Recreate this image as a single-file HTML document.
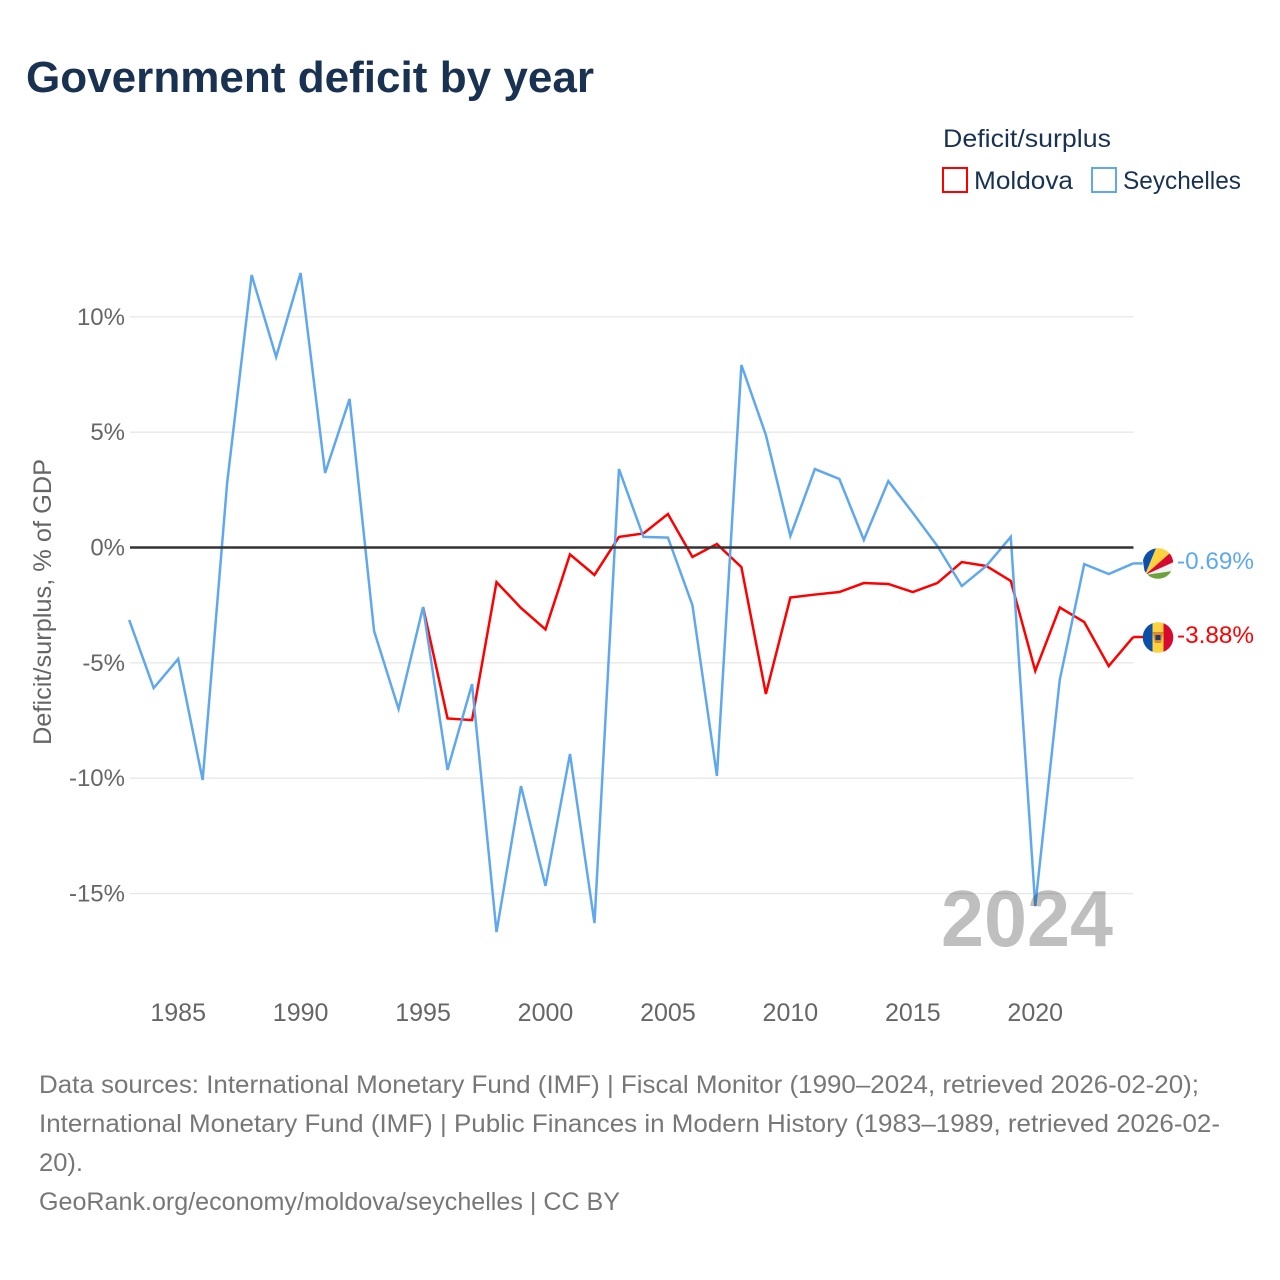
<!DOCTYPE html>
<html lang="en">
<head>
<meta charset="utf-8">
<title>Government deficit by year</title>
<style>
html,body{margin:0;padding:0;background:#fff}
svg{display:block}
text{font-family:"Liberation Sans",sans-serif}
</style>
</head>
<body>
<svg id="chart" xmlns="http://www.w3.org/2000/svg" width="1280" height="1280" viewBox="0 0 1280 1280">
<defs>
<clipPath id="flag-clip-sc"><circle cx="1158" cy="563.5" r="15.3"/></clipPath>
<clipPath id="flag-clip-md"><circle cx="1158" cy="637.5" r="15.3"/></clipPath>
</defs>
<rect x="0" y="0" width="1280" height="1280" fill="#fff"/>
<text x="26" y="92" font-size="44" font-weight="700" fill="#1a3252" textLength="568" lengthAdjust="spacingAndGlyphs">Government deficit by year</text>
<text x="943" y="147" font-size="25" fill="#1a3252" textLength="168" lengthAdjust="spacingAndGlyphs">Deficit/surplus</text>
<rect x="943" y="168" width="24" height="24" fill="none" stroke="#ff0000" stroke-width="2"/>
<text x="974" y="189" font-size="25" fill="#1a3252" textLength="99" lengthAdjust="spacingAndGlyphs">Moldova</text>
<rect x="1092" y="168" width="24" height="24" fill="none" stroke="#5fa8ee" stroke-width="2"/>
<text x="1123" y="189" font-size="25" fill="#1a3252" textLength="118" lengthAdjust="spacingAndGlyphs">Seychelles</text>
<text transform="translate(51,745) rotate(-90)" x="0" y="0" font-size="25" fill="#666" textLength="286" lengthAdjust="spacingAndGlyphs">Deficit/surplus, % of GDP</text>
<g id="grid"></g>
<g id="ytick-labels"></g>
<g id="xtick-labels"></g>
<g id="series"></g>
<line id="zero-line" stroke="#333" stroke-width="2.4"/>
<text x="941" y="946" font-size="80" font-weight="700" fill="#000" fill-opacity="0.25" textLength="172" lengthAdjust="spacingAndGlyphs">2024</text>
<g clip-path="url(#flag-clip-sc)">
<rect x="1142" y="548" width="32" height="32" fill="#f2f2f2"/>
<polygon points="1145,575 1141,546 1157,546" fill="#0b4fa8"/>
<polygon points="1145,575 1157,546 1178,546" fill="#fdd23e"/>
<polygon points="1145,575 1178,546 1176,561" fill="#d7092e"/>
<polygon points="1145,575 1176,570.5 1176,582 1145,582" fill="#6ea03c"/>
</g>
<g clip-path="url(#flag-clip-md)">
<rect x="1142" y="622" width="10.5" height="31" fill="#0b4fa8"/>
<rect x="1152.5" y="622" width="11" height="31" fill="#fdd23e"/>
<rect x="1163.5" y="622" width="10.5" height="31" fill="#d7092e"/>
<polygon points="1152.5,632 1163.5,632 1161,643 1155,643" fill="#d98a2b"/>
<rect x="1155.5" y="635" width="5" height="5" fill="#243a78"/>
</g>
<text x="1177" y="569" font-size="24" fill="#5fa8ee" textLength="77" lengthAdjust="spacingAndGlyphs">-0.69%</text>
<text x="1177" y="643" font-size="24" fill="#ff0000" textLength="77" lengthAdjust="spacingAndGlyphs">-3.88%</text>
<g font-size="25" fill="#777">
<text x="39" y="1093" textLength="1160" lengthAdjust="spacingAndGlyphs">Data sources: International Monetary Fund (IMF) | Fiscal Monitor (1990–2024, retrieved 2026-02-20);</text>
<text x="39" y="1132" textLength="1181" lengthAdjust="spacingAndGlyphs">International Monetary Fund (IMF) | Public Finances in Modern History (1983–1989, retrieved 2026-02-</text>
<text x="39" y="1171" textLength="44" lengthAdjust="spacingAndGlyphs">20).</text>
<text x="39" y="1210" textLength="581" lengthAdjust="spacingAndGlyphs">GeoRank.org/economy/moldova/seychelles | CC BY</text>
</g>
</svg>
<script>
const years = [1983,1984,1985,1986,1987,1988,1989,1990,1991,1992,1993,1994,1995,1996,1997,1998,1999,2000,2001,2002,2003,2004,2005,2006,2007,2008,2009,2010,2011,2012,2013,2014,2015,2016,2017,2018,2019,2020,2021,2022,2023,2024];
const seychelles = [-3.14,-6.09,-4.83,-10.08,2.8,11.81,8.26,11.9,3.23,6.44,-3.62,-7.0,-2.58,-9.64,-5.92,-16.67,-10.34,-14.67,-8.95,-16.28,3.4,0.46,0.43,-2.5,-9.9,7.91,4.88,0.5,3.4,2.97,0.33,2.88,1.5,0.07,-1.67,-0.8,0.46,-15.54,-5.74,-0.72,-1.15,-0.69];
const moldova = [null,null,null,null,null,null,null,null,null,null,null,null,-2.58,-7.41,-7.48,-1.5,-2.62,-3.55,-0.3,-1.19,0.46,0.61,1.45,-0.41,0.15,-0.85,-6.35,-2.17,-2.04,-1.93,-1.54,-1.58,-1.93,-1.54,-0.63,-0.8,-1.45,-5.35,-2.6,-3.23,-5.14,-3.88];
const yTicks = [10,5,0,-5,-10,-15];
const xTicks = [1985,1990,1995,2000,2005,2010,2015,2020];

const SVG_NS = 'http://www.w3.org/2000/svg';
function xScale(year){ return 129.2 + (year - 1983) * (1133.2 - 129.2) / (2024 - 1983); }
function yScale(value){ return 547.5 - value * 23.07; }

const grid = document.getElementById('grid');
const yLabels = document.getElementById('ytick-labels');
const xLabels = document.getElementById('xtick-labels');
const seriesGroup = document.getElementById('series');

yTicks.forEach(function(t){
  if (t !== 0) {
    const line = document.createElementNS(SVG_NS, 'line');
    
    
    line.setAttribute('x1', 130);
    line.setAttribute('x2', 1133.5);
    line.setAttribute('y1', yScale(t));
    line.setAttribute('y2', yScale(t));
    line.setAttribute('stroke', '#e8e8e8');
    line.setAttribute('stroke-width', 1.4);
    grid.appendChild(line);
  }
  const label = document.createElementNS(SVG_NS, 'text');
  
  
  label.setAttribute('x', 125);
  label.setAttribute('y', yScale(t) + 8);
  label.setAttribute('text-anchor', 'end');
  label.setAttribute('font-size', 24);
  label.setAttribute('fill', '#666');
  label.textContent = t + '%';
  yLabels.appendChild(label);
});

xTicks.forEach(function(t){
  const label = document.createElementNS(SVG_NS, 'text');
  
  
  label.setAttribute('x', xScale(t));
  label.setAttribute('y', 1021);
  label.setAttribute('text-anchor', 'middle');
  label.setAttribute('font-size', 25);
  label.setAttribute('fill', '#666');
  label.textContent = t;
  xLabels.appendChild(label);
});

function drawSeries(values, color, name){
  const pts = [];
  values.forEach(function(v, i){
    if (v !== null) { pts.push(xScale(years[i]).toFixed(2) + ',' + yScale(v).toFixed(2)); }
  });
  const line = document.createElementNS(SVG_NS, 'polyline');
  
  
  line.setAttribute('points', pts.join(' '));
  line.setAttribute('fill', 'none');
  line.setAttribute('stroke', color);
  line.setAttribute('stroke-width', 2.5);
  line.setAttribute('stroke-linejoin', 'miter');
  seriesGroup.appendChild(line);
  const last = values[values.length - 1];
  const connector = document.createElementNS(SVG_NS, 'line');
  
  
  connector.setAttribute('x1', xScale(years[years.length - 1]));
  connector.setAttribute('x2', xScale(years[years.length - 1]) + 10);
  connector.setAttribute('y1', yScale(last));
  connector.setAttribute('y2', yScale(last));
  connector.setAttribute('stroke', color);
  connector.setAttribute('stroke-width', 2.5);
  seriesGroup.appendChild(connector);
}
drawSeries(moldova, '#ff0000', 'line-moldova');
drawSeries(seychelles, '#5fa8ee', 'line-seychelles');

const zero = document.getElementById('zero-line');
zero.setAttribute('x1', 130);
zero.setAttribute('x2', 1133.5);
zero.setAttribute('y1', yScale(0));
zero.setAttribute('y2', yScale(0));
</script>
</body>
</html>
